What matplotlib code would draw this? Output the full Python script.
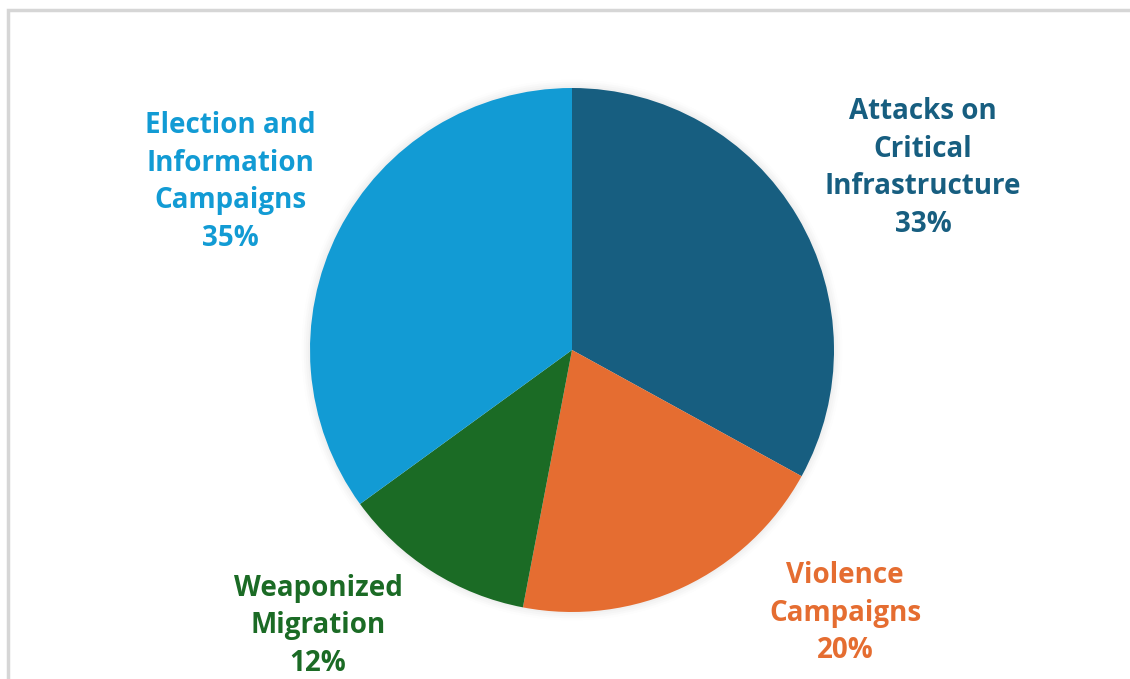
import matplotlib
matplotlib.use("Agg")
import matplotlib.pyplot as plt
from matplotlib.patches import Rectangle, Circle

categories = ["Attacks on\nCritical\nInfrastructure", "Violence\nCampaigns",
              "Weaponized\nMigration", "Election and\nInformation\nCampaigns"]
shares = [33, 20, 12, 35]
colors = ["#175E80", "#E56D31", "#1B6B25", "#129BD4"]
# label block centres in pixels (x, y from top)
label_pos = [(923, 168), (845, 613), (318, 626), (230, 182)]

W, H = 1130, 679
fig = plt.figure(figsize=(W / 100, H / 100), dpi=100)
fig.patch.set_facecolor("white")

# light frame around the chart
fig.patches.append(Rectangle((8 / W, -0.1), 1.2, (H - 10) / H + 0.1,
                             transform=fig.transFigure, fill=False,
                             edgecolor="#D6D6D6", linewidth=2.5))

cx, cy, r = 572, 350, 262
ax = fig.add_axes([(cx - r) / W, (H - cy - r) / H, 2 * r / W, 2 * r / H])

ax.pie(shares, colors=colors, startangle=90, counterclock=False, radius=1.0,
       wedgeprops=dict(linewidth=0))

# soft glow around the pie
for k, a in enumerate([0.05, 0.04, 0.03, 0.02]):
    ax.add_patch(Circle((0, 0), 1.0 + 0.008 * (k + 1), color="#9A9A9A",
                        alpha=a, lw=0, zorder=0, clip_on=False))

ax.set_xlim(-1, 1)
ax.set_ylim(-1, 1)
ax.set_aspect("equal")
ax.axis("off")

for cat, val, col, (px, py) in zip(categories, shares, colors, label_pos):
    fig.text(px / W, 1 - py / H, f"{cat}\n{val}%", ha="center", va="center",
             color=col, fontsize=20, fontweight="bold", family="Open Sans",
             linespacing=1.38)

fig.savefig("out.png", dpi=100, facecolor="white")
